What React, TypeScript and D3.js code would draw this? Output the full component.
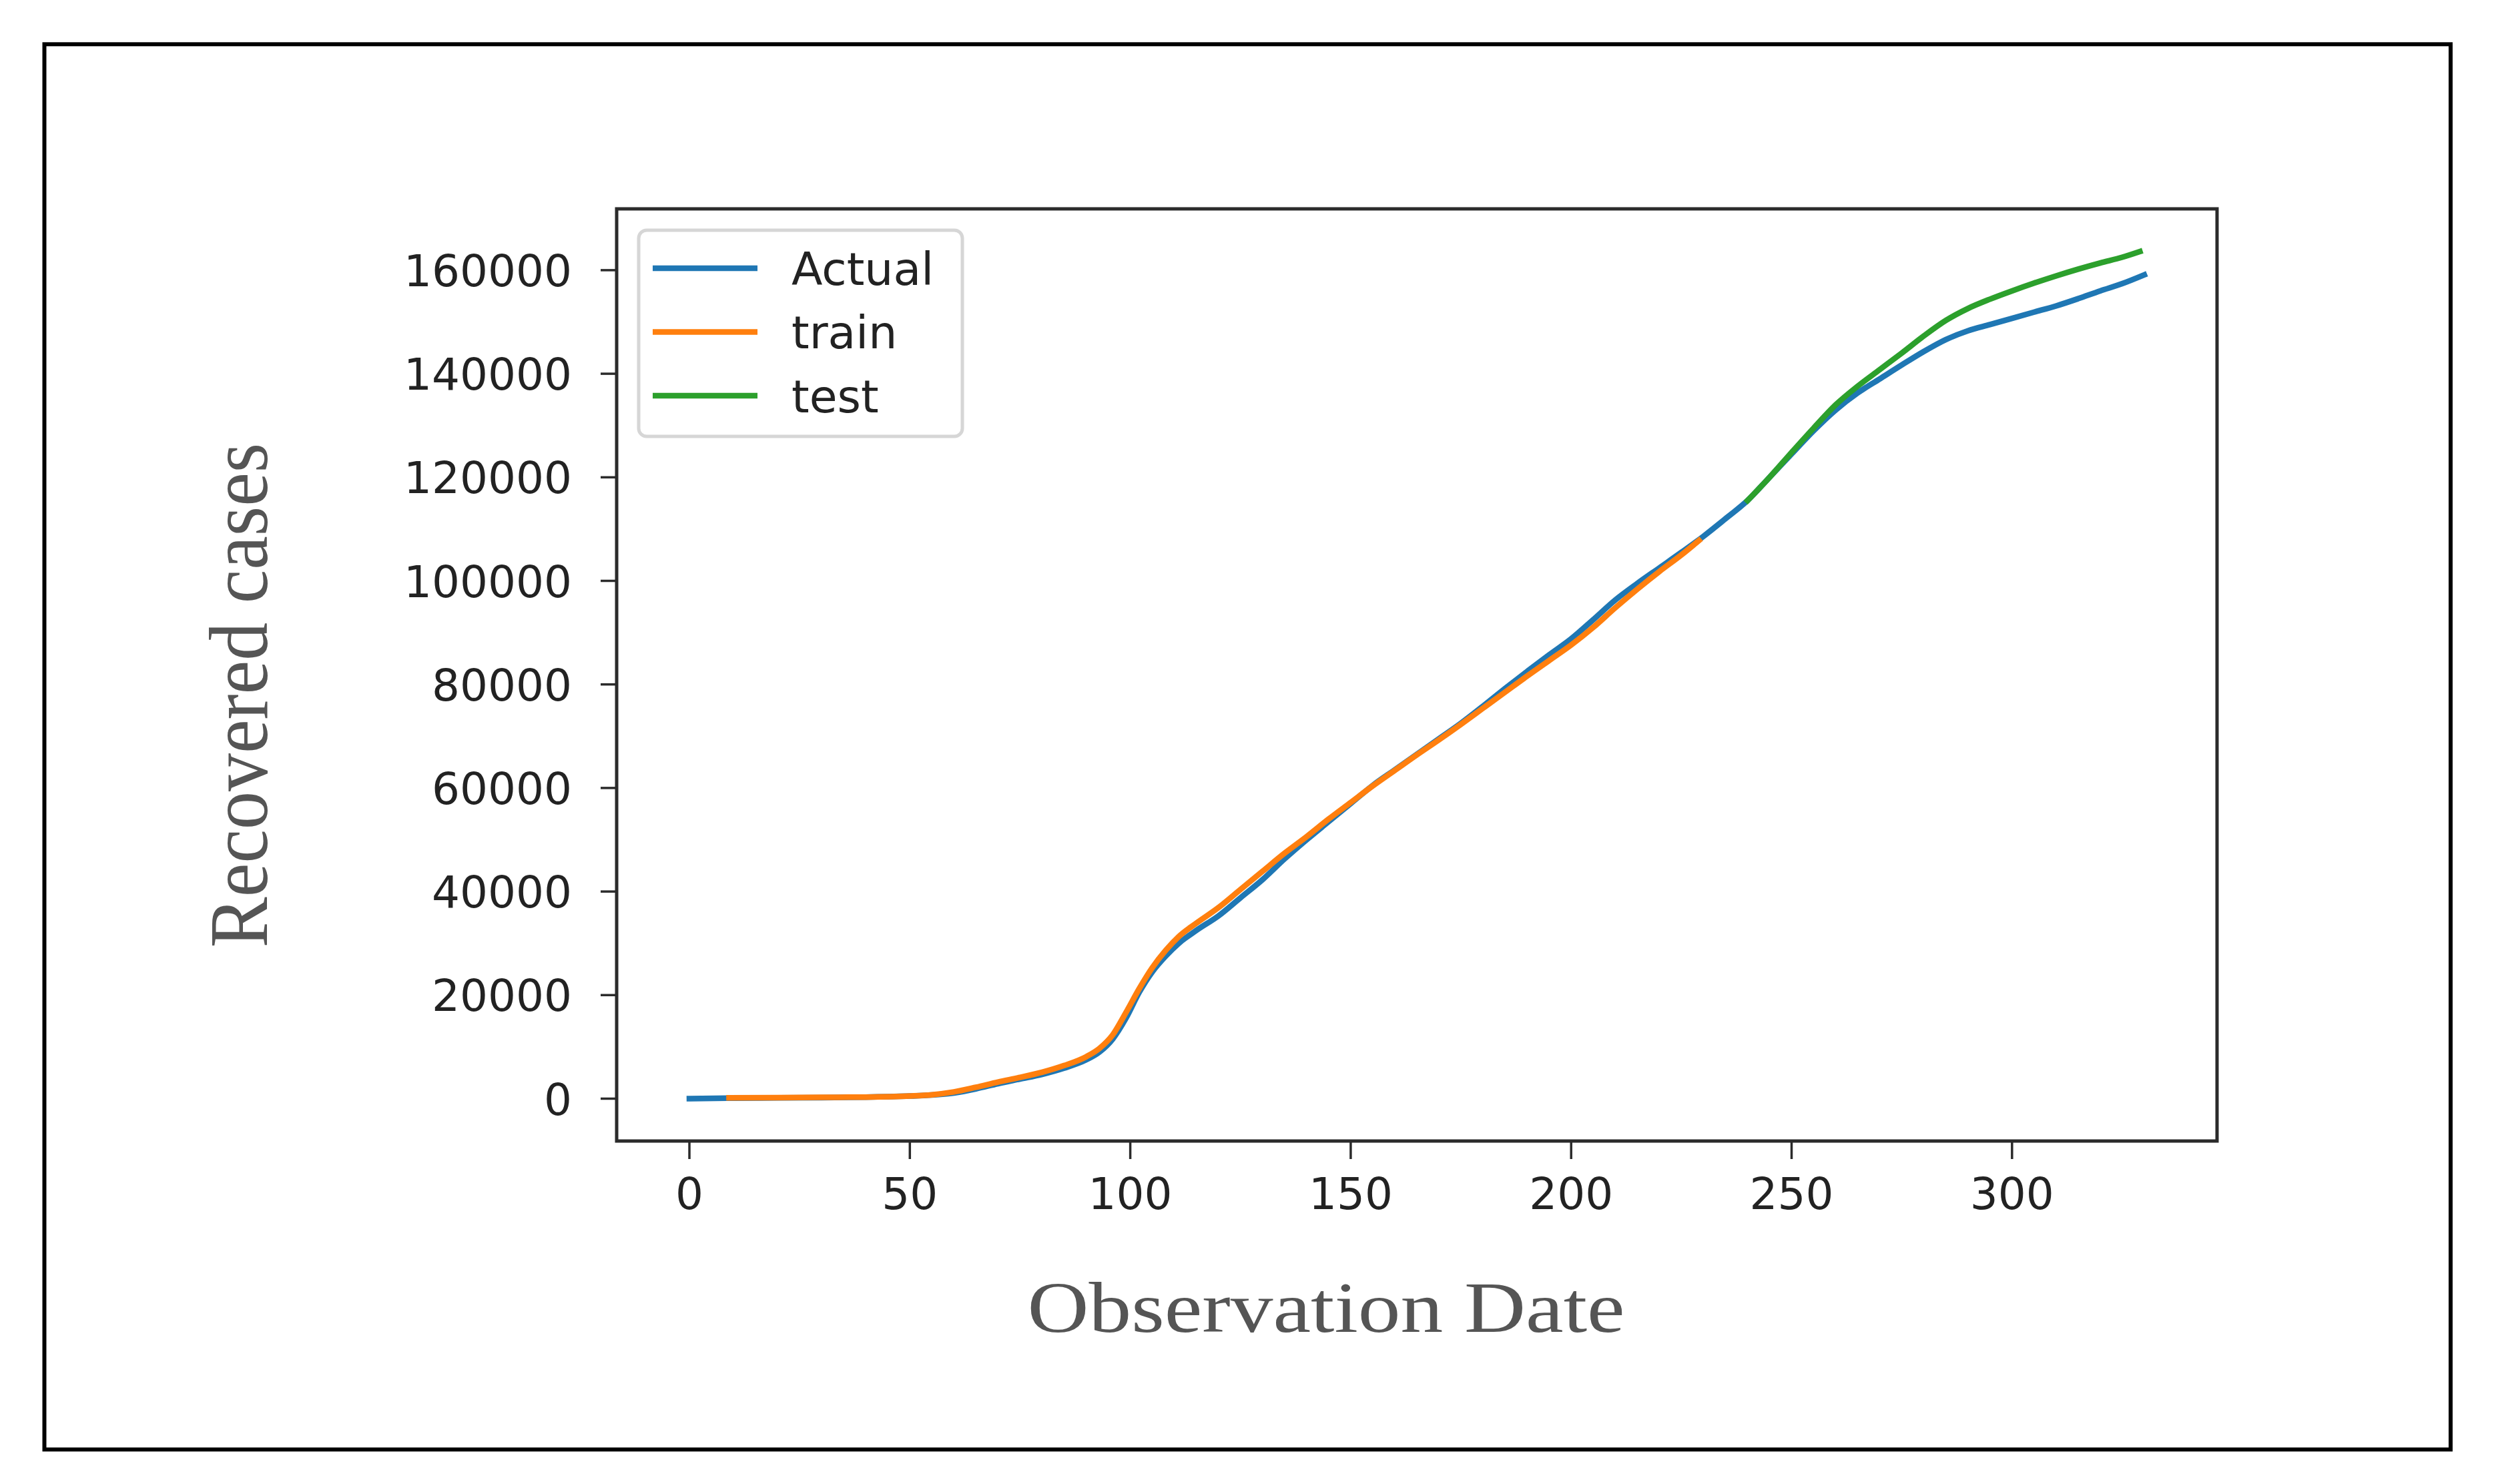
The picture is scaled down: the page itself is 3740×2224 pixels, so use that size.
import React from "react";
import * as d3 from "d3";

const W = 3740;
const H = 2224;

const xTicks = [0, 50, 100, 150, 200, 250, 300];
const yTicks = [0, 20000, 40000, 60000, 80000, 100000, 120000, 140000, 160000];

const legendLabels = ["Actual", "train", "test"];
const seriesColors = ["#1f77b4", "#ff7f0e", "#2ca02c"];

const actualDays = [0, 10, 20, 30, 40, 50, 55, 60, 65, 70, 75, 80, 85, 90, 93, 96, 99, 102, 105, 108, 111, 115, 120, 125, 130, 135, 140, 145, 150, 155, 160, 165, 170, 175, 180, 185, 190, 195, 200, 205, 210, 215, 220, 225, 230, 235, 240, 245, 250, 255, 260, 265, 270, 275, 280, 285, 290, 295, 300, 305, 310, 315, 320, 325, 330];
const actualValues = [0, 100, 150, 200, 300, 500, 700, 1100, 1900, 2900, 3800, 4700, 5900, 7500, 9000, 11500, 15500, 20500, 24500, 27500, 30000, 32500, 35300, 38800, 42300, 46300, 50000, 53500, 57000, 60500, 63500, 66500, 69500, 72500, 75800, 79200, 82500, 85700, 88800, 92500, 96300, 99500, 102500, 105500, 108600, 112000, 115500, 120000, 124500, 129000, 133000, 136300, 139000, 141700, 144300, 146600, 148300, 149500, 150700, 151900, 153100, 154500, 156000, 157400, 159100];

const trainDays = [9, 20, 30, 40, 50, 55, 60, 65, 70, 75, 80, 85, 90, 93, 96, 99, 102, 105, 108, 111, 115, 120, 125, 130, 135, 140, 145, 150, 155, 160, 165, 170, 175, 180, 185, 190, 195, 200, 205, 210, 215, 220, 225, 229];
const trainValues = [150, 200, 250, 300, 500, 750, 1300, 2200, 3200, 4100, 5100, 6400, 8100, 9700, 12300, 16600, 21200, 25300, 28600, 31300, 33900, 36900, 40400, 43900, 47400, 50600, 54000, 57200, 60400, 63400, 66400, 69300, 72300, 75400, 78500, 81600, 84600, 87600, 91000, 94800, 98400, 101800, 105000, 107800];

const testDays = [240, 245, 250, 255, 260, 265, 270, 275, 280, 285, 290, 295, 300, 305, 310, 315, 320, 325, 329];
const testValues = [115500, 120000, 124800, 129500, 134000, 137600, 140800, 144000, 147300, 150300, 152600, 154400, 156000, 157500, 158900, 160200, 161400, 162500, 163600];

const PLOT = { left: 924, right: 3322, top: 313, bottom: 1710 };

export default function App() {
  const x = d3.scaleLinear().domain([-16.5, 346.5]).range([PLOT.left, PLOT.right]);
  const y = d3.scaleLinear().domain([-8183, 171843]).range([PLOT.bottom, PLOT.top]);

  const line = d3
    .line<[number, number]>()
    .x((d) => x(d[0]))
    .y((d) => y(d[1]))
    .curve(d3.curveMonotoneX);

  const series = [
    actualDays.map((d, i) => [d, actualValues[i]] as [number, number]),
    trainDays.map((d, i) => [d, trainValues[i]] as [number, number]),
    testDays.map((d, i) => [d, testValues[i]] as [number, number]),
  ];

  const tickFont = "'DejaVu Sans', sans-serif";
  const serif = "'Liberation Serif', 'Times New Roman', serif";

  const legend = { x: 957, y: 345, w: 485, h: 309 };

  return (
    <svg
      width={W}
      height={H}
      viewBox={`0 0 ${W} ${H}`}
      style={{ position: "absolute", left: 0, top: 0, background: "#fff" }}
    >
      <rect x={0} y={0} width={W} height={H} fill="#fff" />
      {/* outer frame */}
      <rect x={66.5} y={66.3} width={3605.5} height={2106} fill="none" stroke="#000" strokeWidth={6} />

      <clipPath id="plotclip">
        <rect x={PLOT.left} y={PLOT.top} width={PLOT.right - PLOT.left} height={PLOT.bottom - PLOT.top} />
      </clipPath>

      {/* series */}
      <g clipPath="url(#plotclip)">
        {series.map((s, i) => (
          <path
            key={i}
            d={line(s) || ""}
            fill="none"
            stroke={seriesColors[i]}
            strokeWidth={8.5}
            strokeLinejoin="round"
            strokeLinecap="square"
          />
        ))}
      </g>

      {/* spines */}
      <rect
        x={PLOT.left}
        y={PLOT.top}
        width={PLOT.right - PLOT.left}
        height={PLOT.bottom - PLOT.top}
        fill="none"
        stroke="#2b2b2b"
        strokeWidth={5}
      />

      {/* x ticks */}
      {xTicks.map((t) => (
        <g key={`x${t}`}>
          <line x1={x(t)} x2={x(t)} y1={PLOT.bottom} y2={PLOT.bottom + 27} stroke="#2b2b2b" strokeWidth={3.5} />
          <text
            x={x(t)}
            y={1812}
            textAnchor="middle"
            fontFamily={tickFont}
            fontSize={66}
            fill="#222"
          >
            {t}
          </text>
        </g>
      ))}

      {/* y ticks */}
      {yTicks.map((t) => (
        <g key={`y${t}`}>
          <line x1={PLOT.left - 24} x2={PLOT.left} y1={y(t)} y2={y(t)} stroke="#2b2b2b" strokeWidth={3.5} />
          <text
            x={857}
            y={y(t)}
            dy="0.3645em"
            textAnchor="end"
            fontFamily={tickFont}
            fontSize={66}
            fill="#222"
          >
            {t}
          </text>
        </g>
      ))}

      {/* legend */}
      <rect
        x={legend.x}
        y={legend.y}
        width={legend.w}
        height={legend.h}
        rx={12}
        ry={12}
        fill="#fff"
        fillOpacity={0.8}
        stroke="#d6d6d6"
        strokeWidth={5}
      />
      {legendLabels.map((lab, i) => {
        const ly = 402 + i * 95.5;
        return (
          <g key={lab}>
            <line x1={978} x2={1135} y1={ly} y2={ly} stroke={seriesColors[i]} strokeWidth={8.5} />
            <text
              x={1186}
              y={ly}
              dy="0.3645em"
              fontFamily={tickFont}
              fontSize={68}
              fill="#222"
            >
              {lab}
            </text>
          </g>
        );
      })}

      {/* axis titles */}
      <text
        transform="translate(1987,1996) scale(1.18,1)"
        textAnchor="middle"
        fontFamily={serif}
        fontSize={108}
        fill="#555"
      >
        Observation Date
      </text>
      <text
        transform="translate(400,1042) scale(1.1,1) rotate(-90)"
        textAnchor="middle"
        fontFamily={serif}
        fontSize={114}
        fill="#555"
      >
        Recovered cases
      </text>
    </svg>
  );
}
